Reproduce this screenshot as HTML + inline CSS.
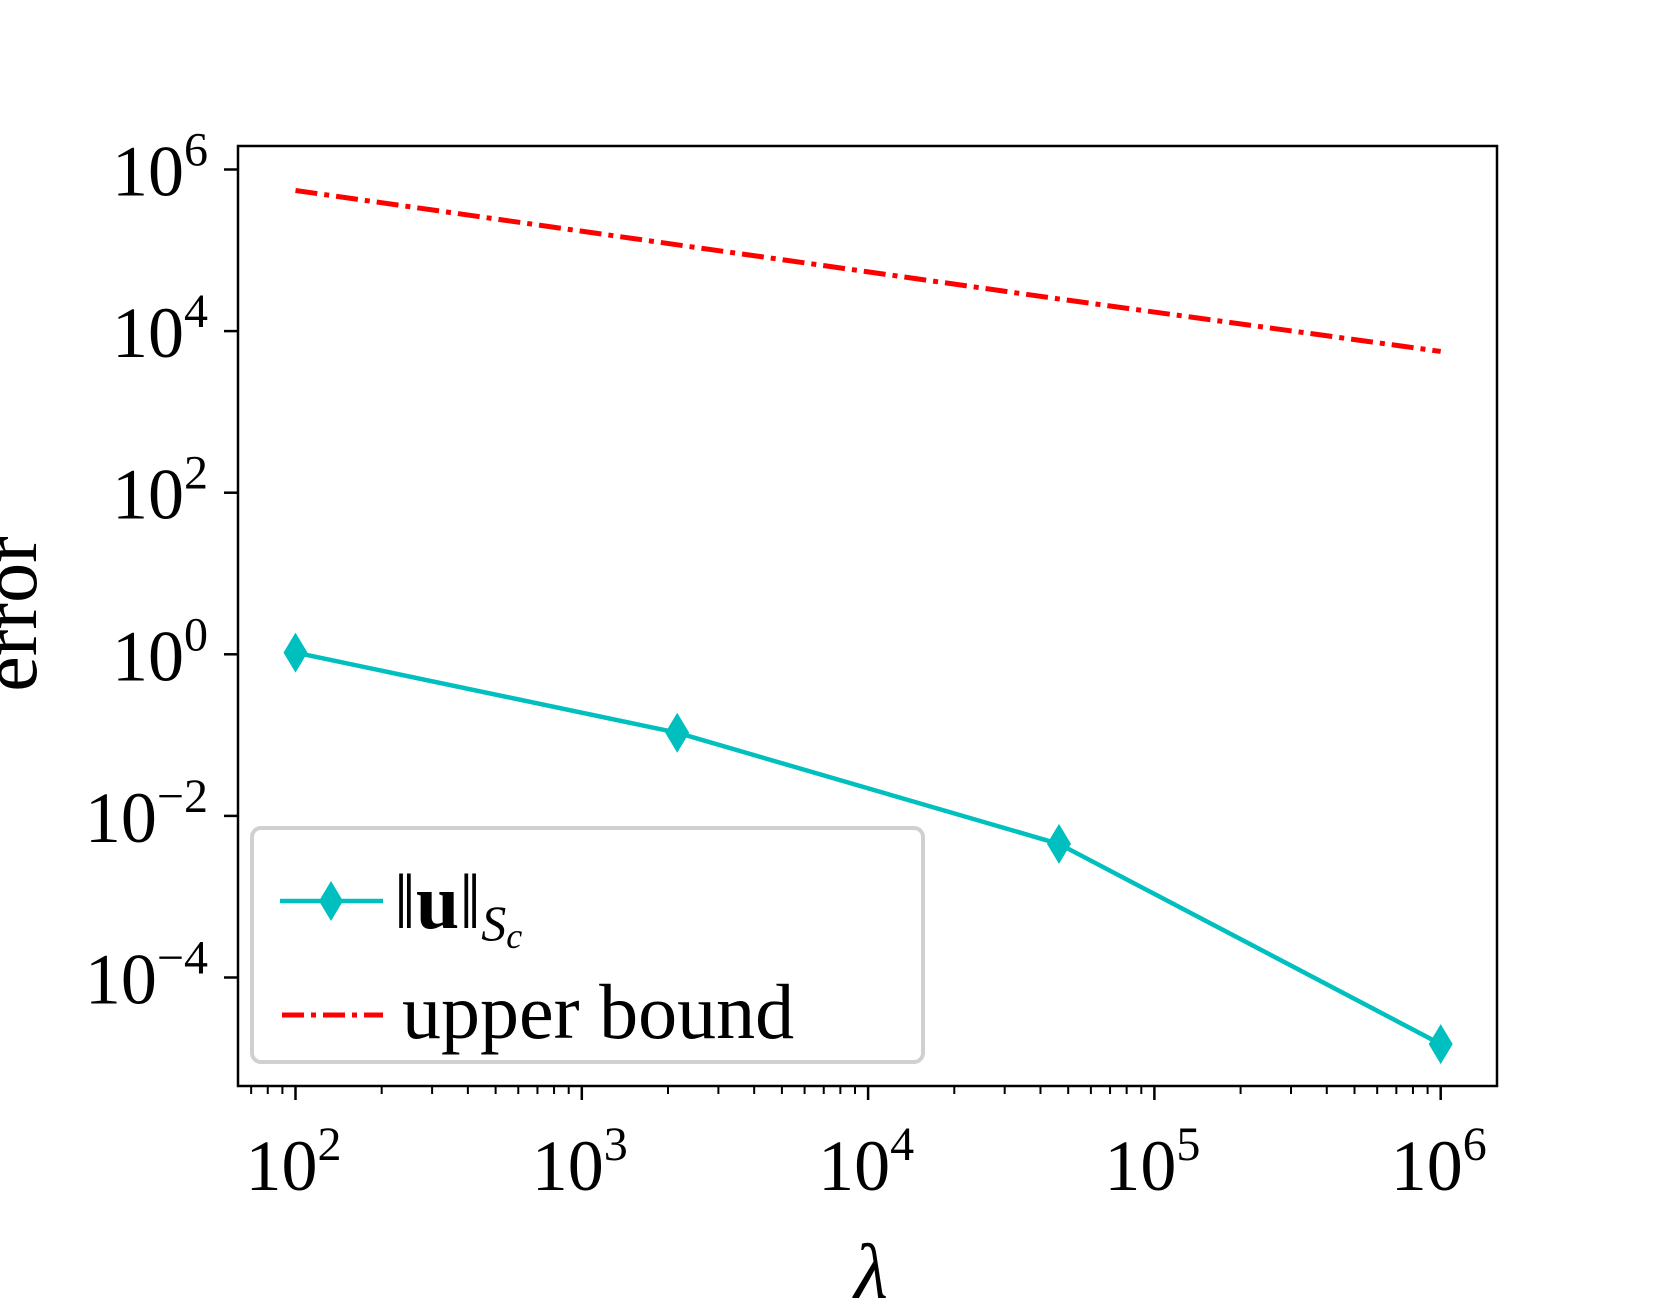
<!DOCTYPE html>
<html><head><meta charset="utf-8"><style>
html,body{margin:0;padding:0;background:#fff;}
svg{display:block;font-family:"Liberation Serif",serif;}
</style></head><body>
<svg id="chart" width="1661" height="1298" viewBox="0 0 1661 1298">
<rect x="0" y="0" width="1661" height="1298" fill="#fff"/>
<g id="minor"></g>
<g id="axes"></g>
<g id="series"></g>
<rect x="238" y="146" width="1259" height="940" fill="none" stroke="#000" stroke-width="2.5"/>
<g>
<rect x="252" y="828" width="671" height="234" rx="9" fill="#fff" fill-opacity="0.8" stroke="#d0d0d0" stroke-width="4"/>
<g>
<line x1="280" y1="901" x2="383" y2="901" stroke="#00bfbf" stroke-width="4.5"/>
<path d="M331,881 L343,901 L331,921 L319,901 Z" fill="#00bfbf"/>
<text x="394" y="928" font-size="78">‖<tspan font-weight="bold">u</tspan>‖<tspan font-style="italic" font-size="50" dy="12">S</tspan><tspan font-style="italic" font-size="36" dy="8">c</tspan></text>
</g>
<g>
<line x1="282" y1="1015" x2="383" y2="1015" stroke="#ff0000" stroke-width="5" stroke-dasharray="22,7,5,7"/>
<text x="402" y="1038" font-size="78">upper bound</text>
</g>
</g>
<text x="871" y="1298" font-size="78" font-style="italic" text-anchor="middle">λ</text>
<text transform="translate(36,614) rotate(-90)" font-size="80" text-anchor="middle">error</text>
</svg>
<script>
const lambdas = [100, 2154, 46416, 1000000];
const normValues = [1.05, 0.107, 0.0045, 1.5e-5];
const upperValues = [550000, 117000, 25000, 5600];
const xTickExps = [2, 3, 4, 5, 6];
const yTickExps = [6, 4, 2, 0, -2, -4];

const NS = "http://www.w3.org/2000/svg";
const X0 = 295.5, XD = 286.3;
const Y0 = 169.5, YD = 80.8;
function xs(v){ return X0 + (Math.log10(v) - 2) * XD; }
function ys(v){ return Y0 + (6 - Math.log10(v)) * YD; }
function mk(tag, attrs, parent){
  const e = document.createElementNS(NS, tag);
  for (const k in attrs) e.setAttribute(k, attrs[k]);
  parent.appendChild(e); return e;
}
const axes = document.getElementById('axes');
const minor = document.getElementById('minor');
const series = document.getElementById('series');

for (let d = 1; d <= 6; d++) {
  for (let m = 2; m <= 9; m++) {
    const v = m * Math.pow(10, d);
    const x = xs(v);
    if (x < 240 || x > 1495) continue;
    const t = mk('line', {x1:x, y1:1086, x2:x, y2:1094, stroke:'#000', 'stroke-width':2}, minor);
    
    
  }
}
xTickExps.forEach(e => {
  const x = xs(Math.pow(10, e));
  const t = mk('line', {x1:x, y1:1086, x2:x, y2:1100, stroke:'#000', 'stroke-width':2.5}, axes);
  
  
  const lab = mk('text', {x:x - 2, y:1190, 'font-size':72, 'text-anchor':'middle'}, axes);
  
  
  lab.innerHTML = '10<tspan font-size="48" dy="-30">' + e + '</tspan>';
});
yTickExps.forEach(e => {
  const y = ys(Math.pow(10, e));
  const t = mk('line', {x1:224, y1:y, x2:238, y2:y, stroke:'#000', 'stroke-width':2.5}, axes);
  
  
  const lab = mk('text', {x:208, y:y + 26, 'font-size':72, 'text-anchor':'end'}, axes);
  
  
  const sup = e < 0 ? '\u2212' + (-e) : '' + e;
  lab.innerHTML = '10<tspan font-size="48" dy="-30">' + sup + '</tspan>';
});

const up = mk('polyline', {points: lambdas.map((l,i)=>xs(l)+','+ys(upperValues[i])).join(' '),
  fill:'none', stroke:'#ff0000', 'stroke-width':5, 'stroke-dasharray':'22,7,5,7'}, series);



const nl = mk('polyline', {points: lambdas.map((l,i)=>xs(l)+','+ys(normValues[i])).join(' '),
  fill:'none', stroke:'#00bfbf', 'stroke-width':4.5}, series);


lambdas.forEach((l,i) => {
  const x = xs(l), y = ys(normValues[i]);
  const p = mk('path', {d:`M${x},${y-20} L${x+12},${y} L${x},${y+20} L${x-12},${y} Z`, fill:'#00bfbf'}, series);
  
  
});
</script>
</body></html>
